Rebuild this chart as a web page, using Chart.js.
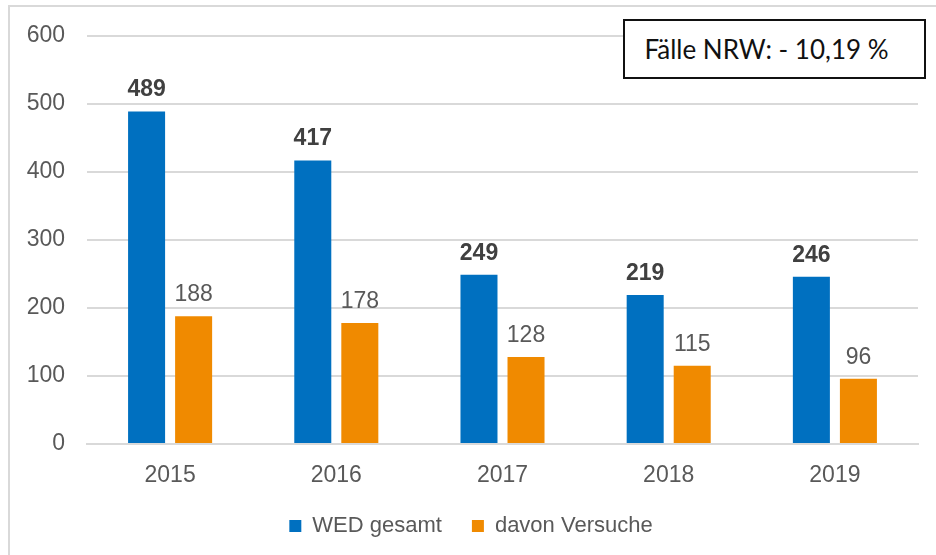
<!DOCTYPE html>
<html>
<head>
<meta charset="utf-8">
<script src="https://cdn.jsdelivr.net/npm/chart.js@4.4.1/dist/chart.umd.min.js"></script>
<style>
  html, body { margin: 0; padding: 0; background: #fff; }
  #wrap { position: relative; width: 936px; height: 555px; overflow: hidden; }
  #frame { position: absolute; left: 8px; top: 5px; width: 940px; height: 560px;
           border-top: 2px solid #d9d9d9; border-left: 2px solid #d9d9d9; }
  #chart { position: absolute; left: 0; top: 0; }
  #note { position: absolute; left: 623px; top: 19px; width: 299px; height: 56px;
          border: 2px solid #111; background: #fff; color: #111; box-sizing: content-box;
          font-family: Lato, "Liberation Sans", sans-serif; font-size: 26px;
          display: flex; align-items: center; justify-content: center; }
  #note span { position: relative; left: -8px; }
</style>
</head>
<body>
<div id="wrap">
  <div id="frame"></div>
  <canvas id="chart" width="936" height="555"></canvas>
  <div id="note"><span>Fälle NRW: - 10,19 %</span></div>
</div>
<script>
var years = ['2015', '2016', '2017', '2018', '2019'];
var wedGesamt = [489, 417, 249, 219, 246];
var davonVersuche = [188, 178, 128, 115, 96];
var yTicks = [0, 100, 200, 300, 400, 500, 600];

var textGray = '#595959';
var fontFamily = 'Arial, "Liberation Sans", sans-serif';

// values above bars, first series bold
var valueLabels = {
  id: 'valueLabels',
  afterDatasetsDraw: function(chart) {
    var ctx = chart.ctx;
    ctx.save();
    ctx.textAlign = 'center';
    ctx.textBaseline = 'alphabetic';
    chart.data.datasets.forEach(function(ds, i) {
      var meta = chart.getDatasetMeta(i);
      ctx.font = (i === 0 ? 'bold ' : '') + '23px ' + fontFamily;
      ctx.fillStyle = i === 0 ? '#404040' : textGray;
      meta.data.forEach(function(bar, j) {
        ctx.fillText(ds.data[j], bar.x, bar.y - 15);
      });
    });
    ctx.restore();
  }
};

var ctx = document.getElementById('chart').getContext('2d');
var chart = new Chart(ctx, {
  type: 'bar',
  data: {
    labels: years,
    datasets: [
      {
        label: 'WED gesamt',
        data: wedGesamt,
        backgroundColor: '#0070C0',
        categoryPercentage: 0.566,
        barPercentage: 0.787
      },
      {
        label: 'davon Versuche',
        data: davonVersuche,
        backgroundColor: '#F08A00',
        categoryPercentage: 0.566,
        barPercentage: 0.787
      }
    ]
  },
  options: {
    responsive: false,
    animation: false,
    layout: { padding: { top: 36, right: 18, bottom: 8, left: 24 } },
    plugins: {
      tooltip: { enabled: false },
      legend: {
        position: 'bottom',
        labels: {
          boxWidth: 12,
          boxHeight: 12,
          padding: 30,
          color: textGray,
          font: { family: fontFamily, size: 22 }
        }
      }
    },
    scales: {
      x: {
        grid: { display: false, drawTicks: false, tickLength: 0 },
        border: { color: '#d9d9d9', width: 2 },
        ticks: {
          color: textGray,
          padding: 18,
          font: { family: fontFamily, size: 23 }
        },
        afterFit: function(scale) { scale.height = 41; }
      },
      y: {
        min: 0,
        max: 600,
        afterBuildTicks: function(scale) {
          scale.ticks = yTicks.map(function(v) { return { value: v }; });
        },
        grid: { color: '#d9d9d9', lineWidth: 2, drawTicks: false },
        border: { display: false },
        ticks: {
          color: textGray,
          padding: 22,
          font: { family: fontFamily, size: 23 }
        },
        afterFit: function(scale) { scale.width = 63; }
      }
    }
  },
  plugins: [valueLabels]
});
</script>
</body>
</html>
